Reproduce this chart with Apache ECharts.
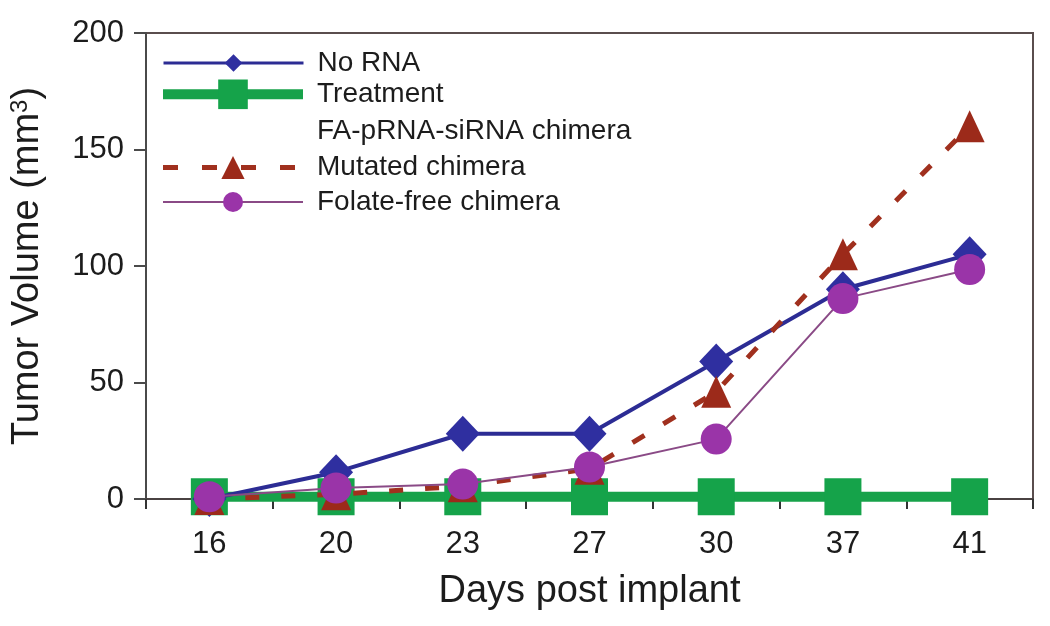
<!DOCTYPE html>
<html>
<head>
<meta charset="utf-8">
<script src="https://cdn.jsdelivr.net/npm/echarts@6/dist/echarts.min.js"></script>
<style>
  html, body { margin: 0; padding: 0; background: #ffffff; }
  #chart { width: 1050px; height: 626px; }
</style>
</head>
<body>
<div id="chart"></div>
<script>
const days = ['16', '20', '23', '27', '30', '37', '41'];
const noRNA = [0, 11.5, 28, 28, 59, 90, 105];
const treatment = [1, 1, 1, 1, 1, 1, 1];
const mutatedChimera = [0, 2, 5.5, 13, 46, 105, 160];
const folateFree = [1, 4.7, 6.4, 13.7, 25.7, 86, 98.5];
const yTicks = [0, 50, 100, 150, 200];

const FONT = "'Liberation Sans', Arial, Helvetica, sans-serif";
const TXT = '#1c1c1c';

const chart = echarts.init(document.getElementById('chart'), null, { renderer: 'canvas' });

function legendFor(name, left, top, itemHeight, lineStyle) {
  return {
    data: [name],
    left: left,
    top: top,
    padding: 0,
    orient: 'vertical',
    itemWidth: 140,
    itemHeight: itemHeight,
    selectedMode: false,
    lineStyle: lineStyle,
    textStyle: { fontFamily: FONT, fontSize: 28, color: TXT, padding: [0, 0, 0, 9] }
  };
}

const option = {
  backgroundColor: '#ffffff',
  animation: false,
  grid: {
    left: 146, right: 17, top: 33, bottom: 127,
    show: true, borderColor: '#5a4e4e', borderWidth: 2, backgroundColor: 'transparent'
  },
  legend: [
    legendFor('No RNA', 162, 49, 22, { width: 3 }),
    legendFor('Treatment', 158, 79.5, 37, { width: 10 }),
    legendFor('Mutated chimera', 160.5, 153.5, 29, { width: 5, type: [15, 24], dashOffset: 0 }),
    legendFor('Folate-free chimera', 162, 188, 25, { width: 2 })
  ],
  graphic: [{
    type: 'text',
    left: 317,
    top: 117,
    style: { text: 'FA-pRNA-siRNA chimera', font: '28px ' + FONT, fill: TXT }
  }],
  xAxis: {
    type: 'category',
    data: days,
    boundaryGap: true,
    name: 'Days post implant',
    nameLocation: 'middle',
    nameGap: 74,
    nameTextStyle: { fontFamily: FONT, fontSize: 38, color: TXT },
    axisLine: { show: true, lineStyle: { color: '#4a4242', width: 2 } },
    axisTick: { show: true, inside: false, length: 10, lineStyle: { color: '#333', width: 2 } },
    axisLabel: { fontFamily: FONT, fontSize: 31, color: TXT, margin: 30 },
    splitLine: { show: false }
  },
  yAxis: {
    type: 'value',
    min: 0, max: 200, interval: 50,
    name: '{a|Tumor Volume (mm}{s|3}{a|)}',
    nameLocation: 'middle',
    nameGap: 99,
    nameRotate: 90,
    nameTextStyle: {
      fontFamily: FONT, fontSize: 38, color: TXT,
      rich: {
        a: { fontFamily: FONT, fontSize: 38, color: TXT },
        s: { fontFamily: FONT, fontSize: 24, color: TXT, verticalAlign: 'top', padding: [0, 0, 15, 0] }
      }
    },
    axisLine: { show: true, lineStyle: { color: '#4a4a4a', width: 2 } },
    axisTick: { show: true, inside: false, length: 12, lineStyle: { color: '#4a4a4a', width: 2 } },
    axisLabel: {
      fontFamily: FONT, fontSize: 31, color: TXT, margin: 22,
      formatter: v => (yTicks.indexOf(v) >= 0 ? String(v) : '')
    },
    splitLine: { show: false }
  },
  series: [
    {
      name: 'No RNA', type: 'line', data: noRNA, z: 3,
      symbol: 'diamond', symbolSize: [34, 36],
      lineStyle: { color: '#2c2c94', width: 4 },
      itemStyle: { color: '#2f2fa0' }
    },
    {
      name: 'Treatment', type: 'line', data: treatment, z: 2,
      symbol: 'rect', symbolSize: 37,
      lineStyle: { color: '#17a24a', width: 10 },
      itemStyle: { color: '#15a34a' }
    },
    {
      name: 'Mutated chimera', type: 'line', data: mutatedChimera, z: 4,
      symbol: 'triangle', symbolSize: [30, 32],
      lineStyle: { color: '#a0301e', width: 5, type: [14, 22] },
      itemStyle: { color: '#9c2a1a' }
    },
    {
      name: 'Folate-free chimera', type: 'line', data: folateFree, z: 5,
      symbol: 'circle', symbolSize: 31,
      lineStyle: { color: '#8a4a86', width: 2 },
      itemStyle: { color: '#9a34a8' }
    }
  ]
};

chart.setOption(option);
</script>
</body>
</html>
